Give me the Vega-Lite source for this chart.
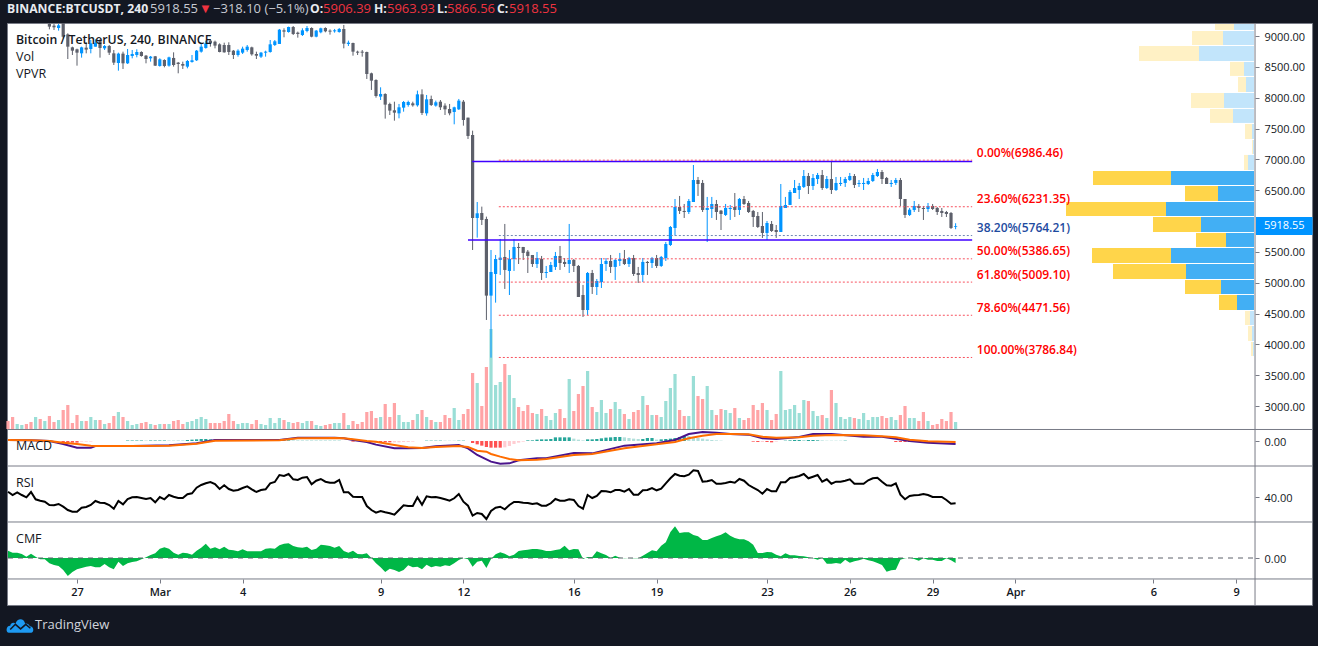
{"$schema":"https://vega.github.io/schema/vega-lite/v6.json","width":1318,"height":646,"autosize":{"type":"none"},"padding":0,"background":"#131722","config":{"view":{"stroke":null},"font":"Open Sans"},
"datasets":{
"bars":[
{"bar":-15,"open":9420,"high":9480,"low":9350,"close":9380,"vol":8,"rsi":45.3,"cmf":0.073},
{"bar":-14,"open":9380,"high":9420,"low":9330,"close":9350,"vol":12,"rsi":42,"cmf":0.053},
{"bar":-13,"open":9350,"high":9440,"low":9320,"close":9400,"vol":5,"rsi":44.7,"cmf":0.053},
{"bar":-12,"open":9400,"high":9470,"low":9380,"close":9450,"vol":4,"rsi":42,"cmf":0.04},
{"bar":-11,"open":9450,"high":9480,"low":9360,"close":9380,"vol":5,"rsi":39.7,"cmf":0.013},
{"bar":-10,"open":9380,"high":9400,"low":9280,"close":9300,"vol":7,"rsi":45,"cmf":0.043},
{"bar":-9,"open":9300,"high":9380,"low":9270,"close":9340,"vol":12,"rsi":37.7,"cmf":0.013},
{"bar":-8,"open":9340,"high":9360,"low":9240,"close":9270,"vol":10,"rsi":36.3,"cmf":-0.013},
{"bar":-7,"open":9270,"high":9330,"low":9230,"close":9300,"vol":8,"rsi":35.3,"cmf":-0.013},
{"bar":-6,"open":9195,"high":9210,"low":9108,"close":9152,"vol":13,"rsi":32,"cmf":-0.053},
{"bar":-5,"open":9168,"high":9195,"low":9098,"close":9141,"vol":7,"rsi":31.7,"cmf":-0.07},
{"bar":-4,"open":9130,"high":9195,"low":9087,"close":9173,"vol":9,"rsi":33,"cmf":-0.08},
{"bar":-3,"open":9210,"high":9230,"low":8962,"close":8989,"vol":19,"rsi":30.3,"cmf":-0.12},
{"bar":-2,"open":9027,"high":9044,"low":8627,"close":8827,"vol":24,"rsi":27,"cmf":-0.18},
{"bar":-1,"open":8816,"high":8827,"low":8692,"close":8762,"vol":6,"rsi":25.3,"cmf":-0.14},
{"bar":0,"open":8784,"high":8795,"low":8519,"close":8730,"vol":14,"rsi":25.3,"cmf":-0.113},
{"bar":1,"open":8719,"high":8827,"low":8649,"close":8816,"vol":8,"rsi":29.3,"cmf":-0.1},
{"bar":2,"open":8811,"high":8898,"low":8719,"close":8779,"vol":8,"rsi":30,"cmf":-0.087},
{"bar":3,"open":8789,"high":8935,"low":8719,"close":8881,"vol":12,"rsi":32,"cmf":-0.08},
{"bar":4,"open":8827,"high":8946,"low":8827,"close":8892,"vol":9,"rsi":36,"cmf":-0.093},
{"bar":5,"open":8925,"high":8946,"low":8649,"close":8806,"vol":9,"rsi":34.3,"cmf":-0.093},
{"bar":6,"open":8800,"high":8854,"low":8773,"close":8838,"vol":5,"rsi":34,"cmf":-0.06},
{"bar":7,"open":8838,"high":8854,"low":8692,"close":8730,"vol":6,"rsi":32,"cmf":-0.093},
{"bar":8,"open":8719,"high":8773,"low":8530,"close":8568,"vol":13,"rsi":28.3,"cmf":-0.113},
{"bar":9,"open":8562,"high":8730,"low":8438,"close":8714,"vol":17,"rsi":36,"cmf":-0.037},
{"bar":10,"open":8714,"high":8746,"low":8465,"close":8557,"vol":12,"rsi":32.7,"cmf":-0.08},
{"bar":11,"open":8557,"high":8789,"low":8546,"close":8692,"vol":8,"rsi":38,"cmf":-0.053},
{"bar":12,"open":8676,"high":8773,"low":8638,"close":8708,"vol":4,"rsi":39.7,"cmf":-0.04},
{"bar":13,"open":8692,"high":8784,"low":8654,"close":8741,"vol":5,"rsi":40,"cmf":-0.033},
{"bar":14,"open":8741,"high":8752,"low":8665,"close":8676,"vol":6,"rsi":39,"cmf":-0.013},
{"bar":15,"open":8681,"high":8692,"low":8557,"close":8627,"vol":7,"rsi":38,"cmf":0.007},
{"bar":16,"open":8638,"high":8676,"low":8584,"close":8665,"vol":5,"rsi":39,"cmf":0.03},
{"bar":17,"open":8671,"high":8676,"low":8514,"close":8519,"vol":4,"rsi":34.7,"cmf":0.047},
{"bar":18,"open":8514,"high":8638,"low":8503,"close":8622,"vol":5,"rsi":40,"cmf":0.093},
{"bar":19,"open":8611,"high":8622,"low":8492,"close":8514,"vol":5,"rsi":37.7,"cmf":0.107},
{"bar":20,"open":8519,"high":8665,"low":8503,"close":8654,"vol":5,"rsi":42,"cmf":0.093},
{"bar":21,"open":8644,"high":8735,"low":8503,"close":8530,"vol":8,"rsi":40.3,"cmf":0.053},
{"bar":22,"open":8568,"high":8579,"low":8395,"close":8546,"vol":9,"rsi":39,"cmf":0.033},
{"bar":23,"open":8546,"high":8584,"low":8465,"close":8519,"vol":5,"rsi":39,"cmf":0.053},
{"bar":24,"open":8503,"high":8611,"low":8476,"close":8595,"vol":7,"rsi":42.7,"cmf":0.047},
{"bar":25,"open":8579,"high":8692,"low":8568,"close":8606,"vol":8,"rsi":43.7,"cmf":0.033},
{"bar":26,"open":8606,"high":8773,"low":8595,"close":8762,"vol":10,"rsi":49.3,"cmf":0.073},
{"bar":27,"open":8746,"high":8881,"low":8730,"close":8827,"vol":12,"rsi":52,"cmf":0.103},
{"bar":28,"open":8806,"high":8925,"low":8795,"close":8881,"vol":10,"rsi":53.7,"cmf":0.143},
{"bar":29,"open":8925,"high":8946,"low":8827,"close":8881,"vol":6,"rsi":55,"cmf":0.093},
{"bar":30,"open":8908,"high":8925,"low":8800,"close":8844,"vol":6,"rsi":53,"cmf":0.107},
{"bar":31,"open":8865,"high":8881,"low":8735,"close":8741,"vol":6,"rsi":48,"cmf":0.087},
{"bar":32,"open":8854,"high":8892,"low":8730,"close":8735,"vol":8,"rsi":51.7,"cmf":0.113},
{"bar":33,"open":8854,"high":8898,"low":8692,"close":8741,"vol":15,"rsi":48,"cmf":0.083},
{"bar":34,"open":8762,"high":8773,"low":8627,"close":8692,"vol":8,"rsi":46.3,"cmf":0.077},
{"bar":35,"open":8692,"high":8784,"low":8665,"close":8762,"vol":5,"rsi":47,"cmf":0.067},
{"bar":36,"open":8730,"high":8827,"low":8708,"close":8795,"vol":6,"rsi":49,"cmf":0.087},
{"bar":37,"open":8773,"high":8854,"low":8746,"close":8827,"vol":6,"rsi":50.7,"cmf":0.067},
{"bar":38,"open":8816,"high":8827,"low":8681,"close":8703,"vol":5,"rsi":47.7,"cmf":0.067},
{"bar":39,"open":8708,"high":8746,"low":8627,"close":8681,"vol":9,"rsi":45,"cmf":0.067},
{"bar":40,"open":8665,"high":8741,"low":8644,"close":8730,"vol":5,"rsi":47,"cmf":0.067},
{"bar":41,"open":8730,"high":8762,"low":8665,"close":8746,"vol":4,"rsi":47.7,"cmf":0.093},
{"bar":42,"open":8741,"high":8935,"low":8730,"close":8865,"vol":11,"rsi":53.7,"cmf":0.097},
{"bar":43,"open":8854,"high":8935,"low":8838,"close":8914,"vol":6,"rsi":55,"cmf":0.093},
{"bar":44,"open":8871,"high":9114,"low":8871,"close":9103,"vol":11,"rsi":62,"cmf":0.127},
{"bar":45,"open":9092,"high":9125,"low":8979,"close":9071,"vol":9,"rsi":61,"cmf":0.143},
{"bar":46,"open":9065,"high":9152,"low":9054,"close":9146,"vol":7,"rsi":63,"cmf":0.147},
{"bar":47,"open":9146,"high":9162,"low":9016,"close":9033,"vol":6,"rsi":57.7,"cmf":0.12},
{"bar":48,"open":9054,"high":9071,"low":8973,"close":9033,"vol":7,"rsi":57,"cmf":0.107},
{"bar":49,"open":9016,"high":9125,"low":9000,"close":9092,"vol":6,"rsi":59.3,"cmf":0.103},
{"bar":50,"open":9081,"high":9162,"low":9060,"close":9130,"vol":8,"rsi":60,"cmf":0.113},
{"bar":51,"open":9130,"high":9141,"low":8979,"close":8989,"vol":8,"rsi":52.7,"cmf":0.08},
{"bar":52,"open":8989,"high":9098,"low":8979,"close":9087,"vol":4,"rsi":56.3,"cmf":0.093},
{"bar":53,"open":9060,"high":9135,"low":9044,"close":9125,"vol":3,"rsi":58,"cmf":0.133},
{"bar":54,"open":9130,"high":9141,"low":9060,"close":9076,"vol":4,"rsi":55.3,"cmf":0.127},
{"bar":55,"open":9087,"high":9108,"low":9022,"close":9071,"vol":5,"rsi":54.3,"cmf":0.12},
{"bar":56,"open":9076,"high":9114,"low":9054,"close":9092,"vol":6,"rsi":54.3,"cmf":0.103},
{"bar":57,"open":9065,"high":9130,"low":9054,"close":9114,"vol":6,"rsi":57,"cmf":0.12},
{"bar":58,"open":9114,"high":9179,"low":8800,"close":8876,"vol":16,"rsi":44.7,"cmf":0.07},
{"bar":59,"open":8871,"high":8925,"low":8838,"close":8892,"vol":4,"rsi":44.7,"cmf":0.053},
{"bar":60,"open":8887,"high":8892,"low":8681,"close":8746,"vol":8,"rsi":40.3,"cmf":0.073},
{"bar":61,"open":8746,"high":8762,"low":8692,"close":8730,"vol":5,"rsi":40,"cmf":0.04},
{"bar":62,"open":8746,"high":8773,"low":8665,"close":8730,"vol":7,"rsi":40,"cmf":0.037},
{"bar":63,"open":8741,"high":8746,"low":8303,"close":8384,"vol":17,"rsi":31,"cmf":0.047},
{"bar":64,"open":8395,"high":8406,"low":8125,"close":8276,"vol":18,"rsi":27,"cmf":0},
{"bar":65,"open":8287,"high":8298,"low":8000,"close":8027,"vol":11,"rsi":24.3,"cmf":-0.053},
{"bar":66,"open":8017,"high":8168,"low":7962,"close":8060,"vol":12,"rsi":26,"cmf":-0.093},
{"bar":67,"open":8060,"high":8071,"low":7660,"close":7887,"vol":25,"rsi":24.7,"cmf":-0.14},
{"bar":68,"open":7898,"high":7919,"low":7719,"close":7790,"vol":12,"rsi":23.7,"cmf":-0.107},
{"bar":69,"open":7795,"high":7935,"low":7627,"close":7757,"vol":26,"rsi":22.3,"cmf":-0.12},
{"bar":70,"open":7746,"high":7898,"low":7665,"close":7844,"vol":14,"rsi":27,"cmf":-0.14},
{"bar":71,"open":7838,"high":7946,"low":7773,"close":7930,"vol":7,"rsi":31.7,"cmf":-0.12},
{"bar":72,"open":7881,"high":7952,"low":7854,"close":7930,"vol":7,"rsi":31,"cmf":-0.073},
{"bar":73,"open":7908,"high":7935,"low":7854,"close":7876,"vol":9,"rsi":31,"cmf":-0.093},
{"bar":74,"open":7876,"high":8114,"low":7854,"close":8054,"vol":15,"rsi":39.7,"cmf":-0.087},
{"bar":75,"open":8054,"high":8135,"low":7719,"close":7752,"vol":19,"rsi":32.3,"cmf":-0.113},
{"bar":76,"open":7746,"high":8044,"low":7708,"close":7973,"vol":12,"rsi":40.7,"cmf":-0.067},
{"bar":77,"open":7979,"high":8033,"low":7865,"close":7881,"vol":9,"rsi":39.7,"cmf":-0.093},
{"bar":78,"open":7871,"high":7952,"low":7854,"close":7925,"vol":7,"rsi":40,"cmf":-0.08},
{"bar":79,"open":7935,"high":7962,"low":7800,"close":7844,"vol":7,"rsi":39,"cmf":-0.087},
{"bar":80,"open":7871,"high":7908,"low":7719,"close":7811,"vol":14,"rsi":37.7,"cmf":-0.073},
{"bar":81,"open":7816,"high":7898,"low":7714,"close":7746,"vol":11,"rsi":36.3,"cmf":-0.08},
{"bar":82,"open":7768,"high":7854,"low":7568,"close":7844,"vol":21,"rsi":38.7,"cmf":-0.053},
{"bar":83,"open":7811,"high":7979,"low":7800,"close":7952,"vol":9,"rsi":43,"cmf":-0.02},
{"bar":84,"open":7935,"high":7962,"low":7546,"close":7638,"vol":15,"rsi":35.3,"cmf":0},
{"bar":85,"open":7676,"high":7676,"low":7330,"close":7379,"vol":20,"rsi":31.3,"cmf":-0.013},
{"bar":86,"open":7395,"high":7465,"low":5530,"close":6049,"vol":56,"rsi":21.3,"cmf":-0.087},
{"bar":87,"open":6049,"high":6308,"low":5730,"close":6125,"vol":46,"rsi":24,"cmf":-0.037},
{"bar":88,"open":6130,"high":6233,"low":5935,"close":6017,"vol":23,"rsi":23,"cmf":-0.027},
{"bar":89,"open":6033,"high":6071,"low":4395,"close":4790,"vol":62,"rsi":18,"cmf":-0.1},
{"bar":90,"open":4790,"high":5530,"low":3784,"close":5173,"vol":100,"rsi":26,"cmf":-0.01},
{"bar":91,"open":5141,"high":5449,"low":4676,"close":5384,"vol":44,"rsi":29.3,"cmf":0.037},
{"bar":92,"open":5368,"high":5709,"low":5125,"close":5406,"vol":47,"rsi":30.3,"cmf":0.057},
{"bar":93,"open":5417,"high":5952,"low":4898,"close":5206,"vol":65,"rsi":27.7,"cmf":0.043},
{"bar":94,"open":5190,"high":5530,"low":4800,"close":5384,"vol":54,"rsi":32,"cmf":0.017},
{"bar":95,"open":5384,"high":5709,"low":5190,"close":5579,"vol":31,"rsi":35,"cmf":0.033},
{"bar":96,"open":5579,"high":5644,"low":5303,"close":5563,"vol":22,"rsi":35,"cmf":0.07},
{"bar":97,"open":5579,"high":5579,"low":5368,"close":5482,"vol":18,"rsi":34.3,"cmf":0.077},
{"bar":98,"open":5503,"high":5530,"low":5157,"close":5433,"vol":24,"rsi":34,"cmf":0.083},
{"bar":99,"open":5449,"high":5449,"low":5255,"close":5303,"vol":16,"rsi":33,"cmf":0.09},
{"bar":100,"open":5303,"high":5498,"low":5238,"close":5400,"vol":15,"rsi":33.7,"cmf":0.09},
{"bar":101,"open":5384,"high":5433,"low":5044,"close":5157,"vol":20,"rsi":31.3,"cmf":0.083},
{"bar":102,"open":5157,"high":5271,"low":5076,"close":5173,"vol":13,"rsi":31.3,"cmf":0.07},
{"bar":103,"open":5173,"high":5336,"low":5173,"close":5287,"vol":9,"rsi":33.7,"cmf":0.07},
{"bar":104,"open":5255,"high":5498,"low":5206,"close":5433,"vol":16,"rsi":38,"cmf":0.08},
{"bar":105,"open":5433,"high":5595,"low":5206,"close":5319,"vol":20,"rsi":36.3,"cmf":0.087},
{"bar":106,"open":5336,"high":5400,"low":5255,"close":5303,"vol":11,"rsi":36.3,"cmf":0.123},
{"bar":107,"open":5303,"high":5952,"low":5157,"close":5368,"vol":50,"rsi":37.7,"cmf":0.077},
{"bar":108,"open":5368,"high":5384,"low":5173,"close":5271,"vol":18,"rsi":37,"cmf":0.09},
{"bar":109,"open":5271,"high":5287,"low":4768,"close":4768,"vol":35,"rsi":31,"cmf":0.087},
{"bar":110,"open":4800,"high":4963,"low":4444,"close":4557,"vol":43,"rsi":28.3,"cmf":-0.01},
{"bar":111,"open":4557,"high":5173,"low":4476,"close":5157,"vol":58,"rsi":42,"cmf":0.01},
{"bar":112,"open":5157,"high":5206,"low":4817,"close":4930,"vol":22,"rsi":39,"cmf":0.01},
{"bar":113,"open":4930,"high":5060,"low":4800,"close":5027,"vol":17,"rsi":41,"cmf":0.067},
{"bar":114,"open":5011,"high":5400,"low":4914,"close":5303,"vol":29,"rsi":46,"cmf":0.047},
{"bar":115,"open":5303,"high":5400,"low":5190,"close":5352,"vol":16,"rsi":45.7,"cmf":0.03},
{"bar":116,"open":5352,"high":5449,"low":5157,"close":5255,"vol":20,"rsi":44.7,"cmf":0},
{"bar":117,"open":5255,"high":5384,"low":5044,"close":5368,"vol":27,"rsi":47,"cmf":0.023},
{"bar":118,"open":5352,"high":5482,"low":5271,"close":5384,"vol":20,"rsi":47,"cmf":0.003},
{"bar":119,"open":5384,"high":5530,"low":5287,"close":5303,"vol":15,"rsi":45.3,"cmf":-0.003},
{"bar":120,"open":5303,"high":5417,"low":5255,"close":5400,"vol":10,"rsi":48,"cmf":0},
{"bar":121,"open":5400,"high":5449,"low":5109,"close":5141,"vol":17,"rsi":42.3,"cmf":-0.003},
{"bar":122,"open":5157,"high":5255,"low":4995,"close":5125,"vol":19,"rsi":42.3,"cmf":-0.003},
{"bar":123,"open":5125,"high":5400,"low":5011,"close":5336,"vol":33,"rsi":46.7,"cmf":0.023},
{"bar":124,"open":5336,"high":5352,"low":5125,"close":5319,"vol":24,"rsi":47,"cmf":0.05},
{"bar":125,"open":5319,"high":5417,"low":5238,"close":5400,"vol":14,"rsi":49,"cmf":0.077},
{"bar":126,"open":5400,"high":5449,"low":5238,"close":5271,"vol":14,"rsi":46.7,"cmf":0.067},
{"bar":127,"open":5271,"high":5433,"low":5255,"close":5417,"vol":12,"rsi":48.3,"cmf":0.123},
{"bar":128,"open":5400,"high":5660,"low":5352,"close":5627,"vol":28,"rsi":53.7,"cmf":0.157},
{"bar":129,"open":5611,"high":5919,"low":5595,"close":5903,"vol":41,"rsi":58.7,"cmf":0.26},
{"bar":130,"open":5887,"high":6357,"low":5763,"close":6227,"vol":55,"rsi":63,"cmf":0.317},
{"bar":131,"open":6227,"high":6406,"low":6114,"close":6163,"vol":19,"rsi":61.3,"cmf":0.25},
{"bar":132,"open":6163,"high":6276,"low":6049,"close":6146,"vol":13,"rsi":60.7,"cmf":0.257},
{"bar":133,"open":6146,"high":6357,"low":6114,"close":6325,"vol":13,"rsi":62.3,"cmf":0.257},
{"bar":134,"open":6308,"high":6908,"low":6308,"close":6665,"vol":53,"rsi":66.7,"cmf":0.23},
{"bar":135,"open":6665,"high":6714,"low":6406,"close":6600,"vol":33,"rsi":66,"cmf":0.217},
{"bar":136,"open":6617,"high":6665,"low":6146,"close":6179,"vol":30,"rsi":55.3,"cmf":0.18},
{"bar":137,"open":6179,"high":6390,"low":5660,"close":6211,"vol":43,"rsi":55.7,"cmf":0.18},
{"bar":138,"open":6195,"high":6390,"low":6049,"close":6276,"vol":19,"rsi":57,"cmf":0.2},
{"bar":139,"open":6276,"high":6341,"low":6017,"close":6146,"vol":14,"rsi":53.3,"cmf":0.217},
{"bar":140,"open":6168,"high":6179,"low":5854,"close":6114,"vol":20,"rsi":53.3,"cmf":0.233},
{"bar":141,"open":6098,"high":6276,"low":6081,"close":6211,"vol":19,"rsi":54,"cmf":0.257},
{"bar":142,"open":6195,"high":6260,"low":6017,"close":6211,"vol":16,"rsi":55.3,"cmf":0.223},
{"bar":143,"open":6227,"high":6454,"low":6065,"close":6179,"vol":21,"rsi":54.3,"cmf":0.2},
{"bar":144,"open":6179,"high":6373,"low":6098,"close":6357,"vol":11,"rsi":58,"cmf":0.187},
{"bar":145,"open":6357,"high":6406,"low":6260,"close":6276,"vol":9,"rsi":56.3,"cmf":0.187},
{"bar":146,"open":6292,"high":6325,"low":6130,"close":6146,"vol":11,"rsi":52,"cmf":0.167},
{"bar":147,"open":6163,"high":6179,"low":5903,"close":6065,"vol":24,"rsi":49.3,"cmf":0.133},
{"bar":148,"open":6081,"high":6146,"low":5887,"close":5903,"vol":19,"rsi":47,"cmf":0.05},
{"bar":149,"open":5919,"high":6146,"low":5725,"close":5806,"vol":26,"rsi":43.3,"cmf":0.05},
{"bar":150,"open":5806,"high":6000,"low":5692,"close":5968,"vol":19,"rsi":48,"cmf":0.06},
{"bar":151,"open":5952,"high":6000,"low":5822,"close":5838,"vol":9,"rsi":45.7,"cmf":0.057},
{"bar":152,"open":5854,"high":5935,"low":5725,"close":5822,"vol":15,"rsi":45.7,"cmf":0.033},
{"bar":153,"open":5822,"high":6600,"low":5822,"close":6244,"vol":58,"rsi":54.7,"cmf":0.017},
{"bar":154,"open":6211,"high":6390,"low":6211,"close":6260,"vol":19,"rsi":54.7,"cmf":0.047},
{"bar":155,"open":6260,"high":6503,"low":6260,"close":6471,"vol":20,"rsi":59,"cmf":0.027},
{"bar":156,"open":6454,"high":6665,"low":6454,"close":6535,"vol":24,"rsi":59.7,"cmf":0.027},
{"bar":157,"open":6503,"high":6617,"low":6357,"close":6568,"vol":16,"rsi":61,"cmf":0.02},
{"bar":158,"open":6552,"high":6827,"low":6535,"close":6730,"vol":29,"rsi":63,"cmf":0.017},
{"bar":159,"open":6730,"high":6779,"low":6438,"close":6568,"vol":28,"rsi":58.7,"cmf":0.007},
{"bar":160,"open":6568,"high":6762,"low":6503,"close":6698,"vol":18,"rsi":60.3,"cmf":-0.003},
{"bar":161,"open":6681,"high":6779,"low":6600,"close":6746,"vol":13,"rsi":62,"cmf":-0.017},
{"bar":162,"open":6746,"high":6827,"low":6503,"close":6535,"vol":14,"rsi":55.3,"cmf":0},
{"bar":163,"open":6535,"high":6730,"low":6519,"close":6681,"vol":11,"rsi":57.7,"cmf":-0.057},
{"bar":164,"open":6681,"high":6973,"low":6438,"close":6503,"vol":39,"rsi":53.3,"cmf":-0.057},
{"bar":165,"open":6503,"high":6714,"low":6487,"close":6617,"vol":26,"rsi":55.3,"cmf":-0.05},
{"bar":166,"open":6600,"high":6714,"low":6568,"close":6617,"vol":12,"rsi":55.3,"cmf":-0.057},
{"bar":167,"open":6617,"high":6714,"low":6552,"close":6681,"vol":10,"rsi":56.3,"cmf":-0.017},
{"bar":168,"open":6665,"high":6779,"low":6649,"close":6730,"vol":12,"rsi":57.7,"cmf":-0.047},
{"bar":169,"open":6730,"high":6762,"low":6535,"close":6584,"vol":11,"rsi":53.3,"cmf":-0.033},
{"bar":170,"open":6600,"high":6665,"low":6552,"close":6617,"vol":10,"rsi":53.3,"cmf":-0.023},
{"bar":171,"open":6600,"high":6698,"low":6503,"close":6617,"vol":16,"rsi":53.3,"cmf":-0.007},
{"bar":172,"open":6600,"high":6698,"low":6584,"close":6649,"vol":9,"rsi":56.7,"cmf":-0.023},
{"bar":173,"open":6649,"high":6779,"low":6633,"close":6746,"vol":12,"rsi":58.7,"cmf":-0.033},
{"bar":174,"open":6730,"high":6844,"low":6714,"close":6795,"vol":12,"rsi":59.3,"cmf":-0.05},
{"bar":175,"open":6795,"high":6827,"low":6600,"close":6681,"vol":13,"rsi":55.3,"cmf":-0.07},
{"bar":176,"open":6698,"high":6714,"low":6600,"close":6600,"vol":11,"rsi":51.7,"cmf":-0.137},
{"bar":177,"open":6600,"high":6665,"low":6552,"close":6617,"vol":12,"rsi":51.3,"cmf":-0.123},
{"bar":178,"open":6617,"high":6698,"low":6584,"close":6665,"vol":9,"rsi":53.7,"cmf":-0.117},
{"bar":179,"open":6665,"high":6698,"low":6244,"close":6357,"vol":14,"rsi":42.3,"cmf":-0.017},
{"bar":180,"open":6357,"high":6357,"low":6049,"close":6098,"vol":23,"rsi":37.7,"cmf":-0.003},
{"bar":181,"open":6098,"high":6211,"low":6081,"close":6184,"vol":11,"rsi":41,"cmf":0.003},
{"bar":182,"open":6179,"high":6325,"low":6146,"close":6244,"vol":11,"rsi":41.7,"cmf":-0.01},
{"bar":183,"open":6244,"high":6276,"low":6146,"close":6211,"vol":8,"rsi":42,"cmf":-0.027},
{"bar":184,"open":6211,"high":6244,"low":6017,"close":6195,"vol":17,"rsi":43,"cmf":-0.003},
{"bar":185,"open":6195,"high":6292,"low":6146,"close":6244,"vol":8,"rsi":42,"cmf":-0.017},
{"bar":186,"open":6244,"high":6276,"low":6179,"close":6195,"vol":4,"rsi":40,"cmf":-0.017},
{"bar":187,"open":6211,"high":6227,"low":6098,"close":6146,"vol":5,"rsi":40,"cmf":-0.03},
{"bar":188,"open":6163,"high":6211,"low":6065,"close":6130,"vol":10,"rsi":40,"cmf":-0.03},
{"bar":189,"open":6146,"high":6163,"low":6065,"close":6114,"vol":8,"rsi":37,"cmf":-0.003},
{"bar":190,"open":6130,"high":6146,"low":5871,"close":5887,"vol":17,"rsi":33.3,"cmf":-0.023},
{"bar":191,"open":5906.39,"high":5963.93,"low":5866.56,"close":5918.55,"vol":7,"rsi":33.7,"cmf":-0.05}
],
"macd":[
{"bar":-15,"macd":20,"signal":20},{"bar":-10,"macd":13,"signal":13},{"bar":-6,"macd":0,"signal":0},{"bar":-3,"macd":-60,"signal":-33},{"bar":0,"macd":-133,"signal":-60},{"bar":3,"macd":-133,"signal":-93},{"bar":4,"macd":-100,"signal":-100},{"bar":12,"macd":-100,"signal":-100},{"bar":20,"macd":-87,"signal":-93},{"bar":26,"macd":-47,"signal":-53},{"bar":30,"macd":20,"signal":7},{"bar":44,"macd":20,"signal":13},{"bar":48,"macd":67,"signal":53},{"bar":56,"macd":67,"signal":60},{"bar":58,"macd":53,"signal":53},{"bar":60,"macd":20,"signal":33},{"bar":63,"macd":-20,"signal":0},{"bar":65,"macd":-73,"signal":-13},{"bar":69,"macd":-147,"signal":-80},{"bar":72,"macd":-147,"signal":-127},{"bar":75,"macd":-140,"signal":-140},{"bar":78,"macd":-107,"signal":-120},{"bar":83,"macd":-80,"signal":-100},{"bar":85,"macd":-147,"signal":-120},{"bar":87,"macd":-280,"signal":-193},{"bar":89,"macd":-367,"signal":-213},{"bar":90,"macd":-413,"signal":-260},{"bar":92,"macd":-453,"signal":-313},{"bar":94,"macd":-447,"signal":-360},{"bar":96,"macd":-387,"signal":-387},{"bar":100,"macd":-347,"signal":-373},{"bar":102,"macd":-347,"signal":-360},{"bar":108,"macd":-240,"signal":-280},{"bar":112,"macd":-247,"signal":-260},{"bar":119,"macd":-93,"signal":-147},{"bar":126,"macd":-47,"signal":-67},{"bar":130,"macd":20,"signal":-20},{"bar":133,"macd":140,"signal":53},{"bar":136,"macd":180,"signal":107},{"bar":139,"macd":167,"signal":140},{"bar":142,"macd":140,"signal":140},{"bar":146,"macd":127,"signal":133},{"bar":149,"macd":53,"signal":87},{"bar":152,"macd":40,"signal":67},{"bar":157,"macd":80,"signal":73},{"bar":160,"macd":140,"signal":107},{"bar":164,"macd":140,"signal":120},{"bar":171,"macd":87,"signal":113},{"bar":175,"macd":87,"signal":93},{"bar":178,"macd":47,"signal":73},{"bar":181,"macd":0,"signal":27},{"bar":185,"macd":-33,"signal":-7},{"bar":191,"macd":-60,"signal":-20}
],
"hist":[
{"bar":-3,"hist":-27,"kind":"falling"},{"bar":-2,"hist":-33,"kind":"falling"},{"bar":-1,"hist":-33,"kind":"falling"},{"bar":0,"hist":-33,"kind":"falling"},{"bar":1,"hist":-13,"kind":"easing"},{"bar":2,"hist":-13,"kind":"easing"},{"bar":3,"hist":-13,"kind":"easing"},
{"bar":11,"hist":10,"kind":"rising"},{"bar":12,"hist":10,"kind":"rising"},{"bar":13,"hist":10,"kind":"rising"},{"bar":14,"hist":10,"kind":"rising"},{"bar":15,"hist":10,"kind":"fading"},{"bar":16,"hist":10,"kind":"rising"},{"bar":17,"hist":10,"kind":"rising"},{"bar":18,"hist":10,"kind":"rising"},{"bar":19,"hist":10,"kind":"rising"},{"bar":20,"hist":10,"kind":"fading"},{"bar":21,"hist":10,"kind":"fading"},{"bar":22,"hist":13,"kind":"fading"},{"bar":23,"hist":13,"kind":"fading"},{"bar":24,"hist":20,"kind":"rising"},{"bar":25,"hist":27,"kind":"rising"},{"bar":26,"hist":33,"kind":"rising"},{"bar":27,"hist":40,"kind":"rising"},{"bar":28,"hist":40,"kind":"rising"},{"bar":29,"hist":33,"kind":"rising"},{"bar":30,"hist":20,"kind":"fading"},{"bar":31,"hist":13,"kind":"fading"},{"bar":32,"hist":10,"kind":"fading"},
{"bar":45,"hist":13,"kind":"rising"},{"bar":46,"hist":13,"kind":"rising"},{"bar":47,"hist":13,"kind":"fading"},{"bar":48,"hist":13,"kind":"fading"},{"bar":49,"hist":13,"kind":"fading"},{"bar":50,"hist":13,"kind":"fading"},{"bar":51,"hist":13,"kind":"fading"},{"bar":52,"hist":13,"kind":"fading"},{"bar":53,"hist":13,"kind":"fading"},{"bar":54,"hist":13,"kind":"fading"},{"bar":55,"hist":13,"kind":"fading"},{"bar":56,"hist":13,"kind":"fading"},{"bar":57,"hist":13,"kind":"fading"},
{"bar":60,"hist":-13,"kind":"falling"},{"bar":62,"hist":-13,"kind":"falling"},{"bar":63,"hist":-20,"kind":"falling"},{"bar":64,"hist":-20,"kind":"falling"},{"bar":65,"hist":-27,"kind":"falling"},{"bar":66,"hist":-27,"kind":"falling"},{"bar":67,"hist":-27,"kind":"falling"},{"bar":68,"hist":-27,"kind":"falling"},{"bar":69,"hist":-27,"kind":"easing"},{"bar":70,"hist":-27,"kind":"easing"},{"bar":71,"hist":-20,"kind":"easing"},{"bar":72,"hist":-20,"kind":"easing"},{"bar":73,"hist":-13,"kind":"easing"},
{"bar":76,"hist":7,"kind":"rising"},{"bar":77,"hist":7,"kind":"rising"},{"bar":78,"hist":7,"kind":"rising"},{"bar":79,"hist":7,"kind":"rising"},{"bar":80,"hist":7,"kind":"fading"},{"bar":81,"hist":7,"kind":"fading"},{"bar":82,"hist":7,"kind":"fading"},{"bar":83,"hist":7,"kind":"rising"},{"bar":84,"hist":7,"kind":"rising"},
{"bar":86,"hist":-40,"kind":"falling"},{"bar":87,"hist":-67,"kind":"falling"},{"bar":88,"hist":-93,"kind":"falling"},{"bar":89,"hist":-120,"kind":"falling"},{"bar":90,"hist":-133,"kind":"falling"},{"bar":91,"hist":-133,"kind":"falling"},{"bar":92,"hist":-133,"kind":"falling"},{"bar":93,"hist":-127,"kind":"easing"},{"bar":94,"hist":-100,"kind":"easing"},{"bar":95,"hist":-60,"kind":"easing"},{"bar":96,"hist":-33,"kind":"easing"},{"bar":97,"hist":-13,"kind":"easing"},
{"bar":98,"hist":13,"kind":"rising"},{"bar":99,"hist":13,"kind":"rising"},{"bar":100,"hist":27,"kind":"rising"},{"bar":101,"hist":33,"kind":"rising"},{"bar":102,"hist":33,"kind":"rising"},{"bar":103,"hist":40,"kind":"rising"},{"bar":104,"hist":73,"kind":"rising"},{"bar":105,"hist":73,"kind":"rising"},{"bar":106,"hist":73,"kind":"rising"},{"bar":107,"hist":73,"kind":"rising"},{"bar":108,"hist":47,"kind":"fading"},{"bar":109,"hist":27,"kind":"fading"},{"bar":110,"hist":13,"kind":"fading"},{"bar":111,"hist":33,"kind":"rising"},{"bar":112,"hist":33,"kind":"rising"},{"bar":113,"hist":40,"kind":"rising"},{"bar":114,"hist":53,"kind":"rising"},{"bar":115,"hist":67,"kind":"rising"},{"bar":116,"hist":73,"kind":"rising"},{"bar":117,"hist":80,"kind":"rising"},{"bar":118,"hist":80,"kind":"rising"},{"bar":119,"hist":73,"kind":"fading"},{"bar":120,"hist":60,"kind":"fading"},{"bar":121,"hist":47,"kind":"fading"},{"bar":122,"hist":40,"kind":"fading"},{"bar":123,"hist":40,"kind":"rising"},{"bar":124,"hist":60,"kind":"rising"},{"bar":125,"hist":60,"kind":"rising"},{"bar":126,"hist":27,"kind":"fading"},{"bar":127,"hist":33,"kind":"rising"},{"bar":128,"hist":40,"kind":"rising"},{"bar":129,"hist":47,"kind":"rising"},{"bar":130,"hist":60,"kind":"rising"},{"bar":131,"hist":80,"kind":"rising"},{"bar":132,"hist":100,"kind":"rising"},{"bar":133,"hist":100,"kind":"fading"},{"bar":134,"hist":80,"kind":"fading"},{"bar":135,"hist":60,"kind":"fading"},{"bar":136,"hist":47,"kind":"fading"},{"bar":137,"hist":33,"kind":"fading"},{"bar":138,"hist":20,"kind":"fading"},{"bar":139,"hist":13,"kind":"fading"},{"bar":140,"hist":7,"kind":"fading"},
{"bar":147,"hist":-13,"kind":"falling"},{"bar":148,"hist":-20,"kind":"falling"},{"bar":149,"hist":-20,"kind":"easing"},{"bar":150,"hist":-20,"kind":"falling"},{"bar":151,"hist":-27,"kind":"falling"},{"bar":152,"hist":-13,"kind":"easing"},
{"bar":154,"hist":7,"kind":"rising"},{"bar":155,"hist":13,"kind":"rising"},{"bar":156,"hist":20,"kind":"rising"},{"bar":157,"hist":20,"kind":"rising"},{"bar":158,"hist":20,"kind":"fading"},{"bar":159,"hist":20,"kind":"rising"},{"bar":160,"hist":20,"kind":"rising"},{"bar":161,"hist":13,"kind":"rising"},{"bar":162,"hist":13,"kind":"fading"},{"bar":163,"hist":7,"kind":"fading"},{"bar":164,"hist":7,"kind":"fading"},{"bar":165,"hist":7,"kind":"fading"},{"bar":166,"hist":7,"kind":"fading"},{"bar":167,"hist":7,"kind":"rising"},
{"bar":178,"hist":-20,"kind":"falling"},{"bar":179,"hist":-20,"kind":"falling"},{"bar":180,"hist":-20,"kind":"falling"},{"bar":181,"hist":-20,"kind":"falling"}
],
"vpvr":[
{"top":9195,"bottom":9098,"up":20,"total":39,"area":false},{"top":9081,"bottom":8854,"up":31,"total":62,"area":false},{"top":8838,"bottom":8595,"up":55,"total":115,"area":false},{"top":8579,"bottom":8352,"up":10,"total":24,"area":false},{"top":8335,"bottom":8092,"up":8,"total":16,"area":false},{"top":8076,"bottom":7833,"up":30,"total":63,"area":false},{"top":7817,"bottom":7590,"up":21,"total":44,"area":false},{"top":7573,"bottom":7330,"up":2,"total":9,"area":false},{"top":7314,"bottom":7087,"up":1,"total":2,"area":false},{"top":7071,"bottom":6827,"up":6,"total":10,"area":false},{"top":6811,"bottom":6584,"up":83,"total":161,"area":true},{"top":6568,"bottom":6325,"up":36,"total":69,"area":true},{"top":6309,"bottom":6082,"up":88,"total":188,"area":true},{"top":6065,"bottom":5822,"up":53,"total":101,"area":true},{"top":5806,"bottom":5579,"up":28,"total":58,"area":true},{"top":5563,"bottom":5320,"up":83,"total":162,"area":true},{"top":5303,"bottom":5060,"up":68,"total":141,"area":true},{"top":5044,"bottom":4817,"up":33,"total":69,"area":true},{"top":4801,"bottom":4557,"up":17,"total":35,"area":true},{"top":4541,"bottom":4314,"up":4,"total":9,"area":false},{"top":4298,"bottom":4055,"up":2,"total":6,"area":false},{"top":4038,"bottom":3811,"up":1,"total":3,"area":false}
],
"fib":[
{"from":91.7,"to":194.6,"price":6986.46,"label":"0.00%(6986.46)","tone":"red"},{"from":91.7,"to":194.6,"price":6231.35,"label":"23.60%(6231.35)","tone":"red"},{"from":91.7,"to":194.6,"price":5764.21,"label":"38.20%(5764.21)","tone":"blue"},{"from":91.7,"to":194.6,"price":5386.65,"label":"50.00%(5386.65)","tone":"red"},{"from":91.7,"to":194.6,"price":5009.10,"label":"61.80%(5009.10)","tone":"red"},{"from":91.7,"to":194.6,"price":4471.56,"label":"78.60%(4471.56)","tone":"red"},{"from":91.7,"to":194.6,"price":3786.84,"label":"100.00%(3786.84)","tone":"red"}
],
"trend":[{"from":85.9,"to":194.6,"price":6965},{"from":85,"to":194.6,"price":5692}],
"frame":[{"from":-15.11,"to":268.6,"top":9203,"bottom":-235}],
"separators":[{"from":-15.11,"to":268.6,"price":2619},{"from":-15.11,"to":268.6,"price":2027},{"from":-15.11,"to":268.6,"price":1119},{"from":-15.11,"to":268.6,"price":195}],
"scaleline":[{"bar":256.09,"top":9203,"bottom":-235}],
"header":[
{"bar":-15.2,"price":9438,"label":"BINANCE:BTCUSDT, 240","tone":"title"},{"bar":15.87,"price":9438,"label":"5918.55","tone":"light"},{"bar":26.5,"price":9438,"label":"▼","tone":"red"},{"bar":29.57,"price":9438,"label":"−318.10 (−5.1%)","tone":"light"},{"bar":50.65,"price":9438,"label":"O:","tone":"title"},{"bar":53.48,"price":9438,"label":"5906.39","tone":"red"},{"bar":64.57,"price":9438,"label":"H:","tone":"title"},{"bar":67.39,"price":9438,"label":"5963.93","tone":"red"},{"bar":78.26,"price":9438,"label":"L:","tone":"title"},{"bar":80.43,"price":9438,"label":"5866.56","tone":"red"},{"bar":91.3,"price":9438,"label":"C:","tone":"title"},{"bar":93.9,"price":9438,"label":"5918.55","tone":"red"}
],
"paneTitle":[{"bar":-13.26,"price":8935,"label":"Bitcoin / TetherUS, 240, BINANCE"}],
"paneLabels":[{"bar":-13.26,"price":8659,"label":"Vol"},{"bar":-13.26,"price":8384,"label":"VPVR"},{"bar":-13.26,"price":2351,"label":"MACD"},{"bar":-13.26,"price":1751,"label":"RSI"},{"bar":-13.26,"price":843,"label":"CMF"}],
"band":[{"from":-16.74,"to":269.78,"top":9583,"bottom":9211}],
"last":[{"from":256.3,"to":268.6,"top":6065,"bottom":5773,"price":5918.55,"label":"5918.55"}],
"logo":[{"bar":-12.4,"price":-551}],
"brand":[{"bar":-9.13,"price":-551,"label":"TradingView"}]
},
"resolve":{"scale":{"x":"independent","y":"independent","color":"independent"}},
"layer":[
{"encoding":{"x":{"field":"from","type":"quantitative","scale":{"domain":[-16.74,269.78],"nice":false,"zero":false},"axis":null}},
 "layer":[
 {"data":{"name":"frame"},"mark":{"type":"rect","fill":"#ffffff","stroke":"#787B86","strokeWidth":1},"encoding":{"x2":{"field":"to"},"y":{"field":"top","type":"quantitative","scale":{"domain":[-891.8,9583.8],"nice":false,"zero":false},"axis":null},"y2":{"field":"bottom"}}},
 {"data":{"name":"separators"},"mark":{"type":"rule","stroke":"#787B86","strokeWidth":1},"encoding":{"x2":{"field":"to"},"y":{"field":"price","type":"quantitative","axis":null}}}
 ]},
{"data":{"name":"scaleline"},"mark":{"type":"rule","stroke":"#787B86","strokeWidth":1},"encoding":{"x":{"field":"bar","type":"quantitative","scale":{"domain":[-16.74,269.78],"nice":false,"zero":false},"axis":null},"y":{"field":"top","type":"quantitative","scale":{"domain":[-891.8,9583.8],"nice":false,"zero":false},"axis":null},"y2":{"field":"bottom"}}},
{"data":{"name":"bars"},"mark":{"type":"bar","orient":"vertical","size":3.2},"encoding":{"x":{"field":"bar","type":"quantitative","scale":{"domain":[-16.74,269.78],"nice":false,"zero":false,"padding":0},"axis":null},"y":{"field":"vol","type":"quantitative","stack":null,"scale":{"domain":[-217,429],"nice":false,"zero":false},"axis":null},"y2":{"datum":0},"color":{"condition":{"test":"datum.close>=datum.open","value":"#9ADED6"},"value":"#FFA4A6"}}},
{"data":{"name":"vpvr"},"encoding":{"y":{"field":"top","type":"quantitative","scale":{"domain":[-891.8,9583.8],"nice":false,"zero":false},"axis":null},"y2":{"field":"bottom"},"opacity":{"condition":{"test":"datum.area","value":1},"value":0.32}},
 "layer":[
 {"mark":{"type":"rect","fill":"#42AFF4"},"encoding":{"x":{"field":"up","type":"quantitative","scale":{"domain":[1254,-64],"nice":false,"zero":false},"axis":null},"x2":{"datum":0}}},
 {"mark":{"type":"rect","fill":"#FFD54A"},"encoding":{"x":{"field":"total","type":"quantitative","axis":null},"x2":{"field":"up"}}}
 ]},
{"data":{"name":"bars"},"encoding":{"x":{"field":"bar","type":"quantitative","scale":{"domain":[-16.74,269.78],"nice":false,"zero":false,"padding":0},"axis":{"orient":"bottom","offset":-67,"zindex":1,"values":[0,18,36,66,84,108,126,150,168,186,204,234,252],"labelExpr":"({'0':'27','18':'Mar','36':'4','66':'9','84':'12','108':'16','126':'19','150':'23','168':'26','186':'29','204':'Apr','234':'6','252':'9'})[''+datum.value]","domain":false,"grid":false,"title":null,"tickColor":"#787B86","tickSize":4,"labelColor":"#131722","labelFont":"Open Sans","labelFontSize":11,"labelFontWeight":600,"labelPadding":3}},"color":{"condition":{"test":"datum.close>=datum.open","value":"#0094FF"},"value":"#5D606B"}},
 "layer":[
 {"mark":{"type":"rule","strokeWidth":1},"encoding":{"y":{"field":"low","type":"quantitative","scale":{"domain":[-891.8,9583.8],"nice":false,"zero":false},"axis":{"orient":"right","offset":-63,"zindex":1,"values":[3000,3500,4000,4500,5000,5500,6500,7000,7500,8000,8500,9000],"format":".2f","domain":false,"grid":false,"title":null,"tickColor":"#787B86","tickSize":4,"labelColor":"#131722","labelFont":"Open Sans","labelFontSize":11,"labelPadding":5,"labelOffset":1,"labelOverlap":false,"labelBound":false}},"y2":{"field":"high"}}},
 {"mark":{"type":"bar","orient":"vertical","size":3.2,"minBandSize":1},"encoding":{"y":{"field":"open","type":"quantitative","stack":null},"y2":{"field":"close"}}}
 ]},
{"data":{"name":"band"},"mark":{"type":"rect","fill":"#131722"},"encoding":{"x":{"field":"from","type":"quantitative","scale":{"domain":[-16.74,269.78],"nice":false,"zero":false},"axis":null},"x2":{"field":"to"},"y":{"field":"top","type":"quantitative","scale":{"domain":[-891.8,9583.8],"nice":false,"zero":false},"axis":null},"y2":{"field":"bottom"}}},
{"data":{"name":"hist"},"mark":{"type":"bar","orient":"vertical","size":3.2},"encoding":{"x":{"field":"bar","type":"quantitative","scale":{"domain":[-16.74,269.78],"nice":false,"zero":false,"padding":0},"axis":null},"y":{"field":"hist","type":"quantitative","stack":null,"scale":{"domain":[-4100,8820],"nice":false,"zero":false},"axis":null},"y2":{"datum":0},"color":{"field":"kind","type":"nominal","scale":{"domain":["rising","fading","falling","easing"],"range":["#26A69A","#B2DFDB","#FF5252","#FFCDD2"]},"legend":null}}},
{"data":{"name":"macd"},"encoding":{"x":{"field":"bar","type":"quantitative","scale":{"domain":[-16.74,269.78],"nice":false,"zero":false},"axis":null}},
 "layer":[
 {"mark":{"type":"line","stroke":"#4A148C","strokeWidth":2},"encoding":{"y":{"field":"macd","type":"quantitative","scale":{"domain":[-4100,8820],"nice":false,"zero":false},"axis":{"orient":"right","offset":-63,"zindex":1,"values":[0],"format":".2f","domain":false,"grid":false,"title":null,"tickColor":"#787B86","tickSize":4,"labelColor":"#131722","labelFont":"Open Sans","labelFontSize":11,"labelPadding":5,"labelOffset":1}}}},
 {"mark":{"type":"line","stroke":"#FF6D00","strokeWidth":2},"encoding":{"y":{"field":"signal","type":"quantitative"}}}
 ]},
{"data":{"name":"bars"},"mark":{"type":"line","stroke":"#000000","strokeWidth":2},"encoding":{"x":{"field":"bar","type":"quantitative","scale":{"domain":[-16.74,269.78],"nice":false,"zero":false},"axis":null},"y":{"field":"rsi","type":"quantitative","scale":{"domain":[-109,537],"nice":false,"zero":false},"axis":{"orient":"right","offset":-63,"zindex":1,"values":[40],"format":".2f","domain":false,"grid":false,"title":null,"tickColor":"#787B86","tickSize":4,"labelColor":"#131722","labelFont":"Open Sans","labelFontSize":11,"labelPadding":5,"labelOffset":1}}}},
{"data":{"name":"bars"},"mark":{"type":"area","fill":"#00B746"},"encoding":{"x":{"field":"bar","type":"quantitative","scale":{"domain":[-16.74,269.78],"nice":false,"zero":false},"axis":null},"y":{"field":"cmf","type":"quantitative","stack":null,"scale":{"domain":[-0.88,5.58],"nice":false,"zero":false},"axis":{"orient":"right","offset":-63,"zindex":1,"values":[0],"format":".2f","domain":false,"grid":false,"title":null,"tickColor":"#787B86","tickSize":4,"labelColor":"#131722","labelFont":"Open Sans","labelFontSize":11,"labelPadding":5,"labelOffset":1}},"y2":{"datum":0}}},
{"data":{"values":[{"from":-15,"to":256,"level":0}]},"mark":{"type":"rule","stroke":"#5D606B","strokeWidth":1,"strokeDash":[5,5]},"encoding":{"x":{"field":"from","type":"quantitative","scale":{"domain":[-16.74,269.78],"nice":false,"zero":false},"axis":null},"x2":{"field":"to"},"y":{"field":"level","type":"quantitative","scale":{"domain":[-0.88,5.58],"nice":false,"zero":false},"axis":null}}},
{"encoding":{"x":{"field":"from","type":"quantitative","scale":{"domain":[-16.74,269.78],"nice":false,"zero":false},"axis":null},"x2":{"field":"to"},"y":{"field":"price","type":"quantitative","scale":{"domain":[-891.8,9583.8],"nice":false,"zero":false},"axis":null}},
 "layer":[
 {"data":{"name":"trend"},"mark":{"type":"rule","stroke":"#3F00FF","strokeWidth":1.5}},
 {"data":{"name":"fib"},"mark":{"type":"rule","strokeWidth":1,"strokeDash":[2,2]},"encoding":{"color":{"field":"tone","type":"nominal","scale":{"domain":["red","blue"],"range":["#F7525F","#6F86B5"]},"legend":null}}}
 ]},
{"data":{"name":"fib"},"mark":{"type":"text","align":"left","baseline":"middle","dy":-7.5,"font":"Open Sans","fontSize":12,"fontWeight":600},"encoding":{"x":{"datum":195.6,"type":"quantitative","scale":{"domain":[-16.74,269.78],"nice":false,"zero":false},"axis":null},"y":{"field":"price","type":"quantitative","scale":{"domain":[-891.8,9583.8],"nice":false,"zero":false},"axis":null},"text":{"field":"label"},"color":{"field":"tone","type":"nominal","scale":{"domain":["red","blue"],"range":["#FF0000","#1E4BA0"]},"legend":null}}},
{"data":{"name":"last"},"encoding":{"x":{"field":"from","type":"quantitative","scale":{"domain":[-16.74,269.78],"nice":false,"zero":false},"axis":null}},
 "layer":[
 {"mark":{"type":"rect","fill":"#0094FF"},"encoding":{"x2":{"field":"to"},"y":{"field":"top","type":"quantitative","scale":{"domain":[-891.8,9583.8],"nice":false,"zero":false},"axis":null},"y2":{"field":"bottom"}}},
 {"mark":{"type":"text","align":"left","baseline":"middle","font":"Open Sans","fontSize":11,"color":"#ffffff","dx":8},"encoding":{"y":{"field":"price","type":"quantitative"},"text":{"field":"label"}}}
 ]},
{"data":{"name":"header"},"encoding":{"x":{"field":"bar","type":"quantitative","scale":{"domain":[-16.74,269.78],"nice":false,"zero":false},"axis":null},"y":{"field":"price","type":"quantitative","scale":{"domain":[-891.8,9583.8],"nice":false,"zero":false},"axis":null},"text":{"field":"label"},"color":{"field":"tone","type":"nominal","scale":{"domain":["title","light","red"],"range":["#E8EAF0","#C8CBD3","#EF3340"]},"legend":null}},
 "layer":[
 {"transform":[{"filter":"datum.tone==='title'"}],"mark":{"type":"text","align":"left","baseline":"middle","font":"Open Sans","fontSize":12.2,"fontWeight":700}},
 {"transform":[{"filter":"datum.tone!=='title'"}],"mark":{"type":"text","align":"left","baseline":"middle","font":"Open Sans","fontSize":13}}
 ]},
{"encoding":{"x":{"field":"bar","type":"quantitative","scale":{"domain":[-16.74,269.78],"nice":false,"zero":false},"axis":null},"y":{"field":"price","type":"quantitative","scale":{"domain":[-891.8,9583.8],"nice":false,"zero":false},"axis":null},"text":{"field":"label"}},
 "layer":[
 {"data":{"name":"paneTitle"},"mark":{"type":"text","align":"left","baseline":"middle","font":"Open Sans","fontSize":12.3,"fontWeight":600,"color":"#131722"}},
 {"data":{"name":"paneLabels"},"mark":{"type":"text","align":"left","baseline":"middle","font":"Open Sans","fontSize":12.5,"color":"#131722"}},
 {"data":{"name":"brand"},"mark":{"type":"text","align":"left","baseline":"middle","font":"Open Sans","fontSize":13,"color":"#D1D4DC"}}
 ]},
{"data":{"name":"logo"},"encoding":{"x":{"field":"bar","type":"quantitative","scale":{"domain":[-16.74,269.78],"nice":false,"zero":false},"axis":null},"y":{"field":"price","type":"quantitative","scale":{"domain":[-891.8,9583.8],"nice":false,"zero":false},"axis":null}},
 "layer":[
 {"mark":{"type":"point","filled":true,"fill":"#1E9AF2","opacity":1,"size":676,"shape":"M-0.85,0.6 C-1.1,0.6 -1.1,0.05 -0.75,0.05 C-0.7,-0.2 -0.45,-0.2 -0.35,-0.1 C-0.2,-0.55 0.3,-0.55 0.4,-0.1 C0.5,-0.15 0.7,-0.1 0.75,0.1 C1.1,0.1 1.1,0.6 0.85,0.6 Z"}},
 {"mark":{"type":"point","filled":false,"stroke":"#131722","strokeWidth":1.5,"opacity":1,"size":676,"shape":"M-0.75,0.35 L-0.35,-0.05 L0.05,0.3 L0.45,-0.05 L0.8,0.25"}}
 ]}
]}
